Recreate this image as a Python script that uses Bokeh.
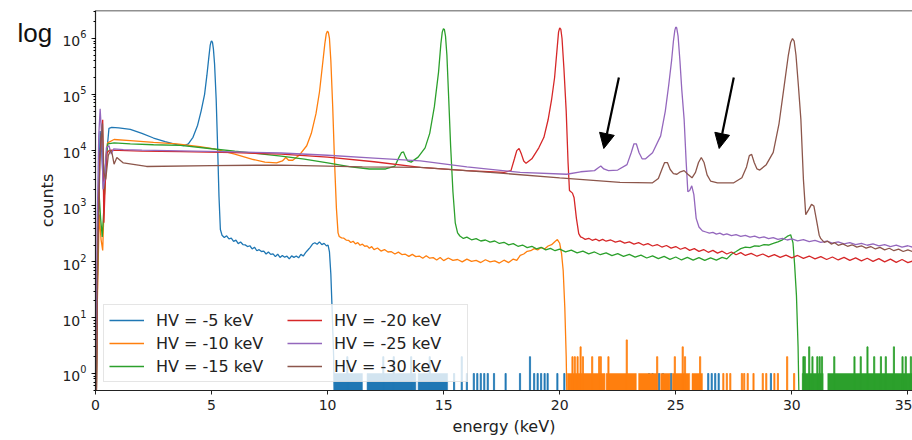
import numpy as np
from bokeh.plotting import figure
from bokeh.models import (Range1d, Legend, LegendItem, Label, Arrow, NormalHead,
                          FixedTicker, LogTicker, Span)
from bokeh.embed import file_html
from bokeh.resources import INLINE

# ---------------- data ----------------
series_labels = ["HV = -5 keV", "HV = -10 keV", "HV = -15 keV",
                 "HV = -20 keV", "HV = -25 keV", "HV = -30 keV"]
series_colors = ["#1f77b4", "#ff7f0e", "#2ca02c", "#d62728", "#9467bd", "#8c564b"]
x_ticks = [0, 5, 10, 15, 20, 25, 30, 35]

# spectra: (energy keV, counts); counts < 0.5 means "zero" (off the log axis)
hv5_spectrum = [
    (0.03, 0.2), (0.08, 40), (0.14, 2500), (0.2, 2.2e4), (0.27, 9e3), (0.35, 1.8e3),
    (0.45, 7e3), (0.54, 1.6e4), (0.58, 2.45e4), (0.7, 2.55e4), (1.0, 2.5e4), (1.5, 2.35e4),
    (2.0, 2.0e4), (2.5, 1.65e4), (3.0, 1.42e4), (3.5, 1.26e4), (3.8, 1.2e4), (4.0, 1.3e4),
    (4.2, 1.7e4), (4.4, 2.8e4), (4.55, 5e4), (4.7, 1.0e5), (4.8, 2.2e5), (4.88, 4.5e5),
    (4.94, 7.5e5), (4.98, 8.8e5), (5.01, 9e5), (5.04, 8.5e5), (5.08, 6.5e5), (5.13, 3.5e5),
    (5.2, 8e4), (5.26, 1.2e4), (5.32, 1.5e3), (5.38, 380),
    (5.45, 300), (5.55, 272), (5.65, 292), (5.75, 258), (5.85, 266), (5.95, 232), (6.05, 245),
    (6.15, 212), (6.25, 226), (6.35, 204), (6.45, 201), (6.55, 188), (6.65, 194), (6.75, 170),
    (6.85, 183), (6.95, 158), (7.05, 165), (7.15, 153), (7.25, 155), (7.35, 138), (7.45, 150),
    (7.55, 136), (7.65, 139), (7.75, 124), (7.85, 137), (7.95, 120), (8.05, 130), (8.15, 121),
    (8.25, 126), (8.35, 113), (8.45, 128), (8.55, 120), (8.65, 127), (8.75, 118), (8.85, 136),
    (8.95, 127), (9.05, 146), (9.15, 163), (9.25, 182), (9.35, 208), (9.45, 220), (9.55, 206),
    (9.65, 228), (9.75, 203), (9.85, 214), (9.95, 193), (10.02, 200), (10.08, 150),
    (10.14, 60), (10.2, 12), (10.26, 2), (10.3, 0.2),
]
hv10_spectrum = [
    (0.03, 0.2), (0.08, 20), (0.16, 700), (0.24, 250), (0.31, 160), (0.38, 1500), (0.45, 8e3),
    (0.52, 1.35e4), (0.8, 1.55e4), (1.5, 1.48e4), (2.5, 1.38e4), (3.5, 1.3e4), (4.5, 1.15e4),
    (5.1, 1.05e4), (6.0, 8.5e3), (6.8, 6.8e3), (7.3, 6.1e3), (7.8, 5.9e3), (8.05, 6.4e3),
    (8.2, 7.4e3), (8.32, 6.6e3), (8.5, 6.6e3), (8.8, 8.3e3), (9.1, 1.2e4), (9.3, 2.0e4),
    (9.5, 4.5e4), (9.65, 1.1e5), (9.8, 4e5), (9.88, 8e5), (9.94, 1.2e6), (9.99, 1.35e6),
    (10.03, 1.3e6), (10.08, 1.0e6), (10.14, 4e5), (10.22, 6e4), (10.3, 6e3), (10.38, 900),
    (10.45, 330),
    (10.5, 285), (10.6, 268), (10.7, 265), (10.8, 245), (10.9, 243), (11.0, 222), (11.1, 234),
    (11.2, 210), (11.3, 221), (11.4, 198), (11.5, 207), (11.6, 190), (11.7, 193), (11.8, 175),
    (11.9, 187), (12.0, 166), (12.15, 177), (12.3, 156), (12.45, 166), (12.6, 150),
    (12.75, 152), (12.9, 138), (13.05, 149), (13.2, 135), (13.35, 137), (13.5, 125),
    (13.65, 136), (13.8, 124), (13.95, 127), (14.1, 116), (14.25, 128), (14.4, 116),
    (14.55, 119), (14.7, 108), (14.85, 120), (15.0, 105), (15.2, 117), (15.4, 106),
    (15.6, 110), (15.8, 100), (16.0, 112), (16.2, 102), (16.4, 106), (16.6, 97), (16.8, 109),
    (17.0, 100), (17.2, 104), (17.4, 95), (17.6, 107), (17.8, 97), (18.0, 112), (18.15, 106),
    (18.3, 130), (18.45, 138), (18.6, 154), (18.75, 158), (18.9, 172), (19.05, 163),
    (19.2, 180), (19.35, 170), (19.5, 192), (19.65, 203), (19.8, 232), (19.9, 250),
    (20.0, 215), (20.08, 140), (20.15, 70), (20.22, 15), (20.28, 2), (20.32, 0.2),
]
hv15_spectrum = [
    (0.03, 0.2), (0.07, 30), (0.15, 1800), (0.22, 600), (0.29, 280), (0.36, 900), (0.44, 6e3),
    (0.53, 1.3e4), (0.8, 1.35e4), (1.5, 1.3e4), (2.5, 1.25e4), (3.66, 1.22e4), (5.0, 1.06e4),
    (6.0, 9.6e3), (7.0, 8.7e3), (8.0, 7.8e3), (9.0, 6.9e3), (10.0, 5.9e3), (11.0, 5.0e3),
    (11.8, 4.6e3), (12.5, 4.6e3), (12.9, 5.2e3), (13.08, 7.5e3), (13.18, 9.0e3),
    (13.27, 9.3e3), (13.36, 7.5e3), (13.45, 6.4e3), (13.6, 6.1e3), (13.9, 7.5e3),
    (14.2, 1.1e4), (14.4, 2.0e4), (14.6, 6e4), (14.78, 2.5e5), (14.88, 8e5), (14.94, 1.3e6),
    (14.99, 1.5e6), (15.03, 1.45e6), (15.08, 1.1e6), (15.14, 5e5), (15.22, 8e4), (15.3, 1.2e4),
    (15.4, 1.8e3), (15.5, 500), (15.6, 330),
    (15.7, 290), (15.85, 262), (16.0, 277), (16.2, 248), (16.4, 260), (16.6, 236), (16.8, 246),
    (17.0, 226), (17.2, 236), (17.4, 213), (17.6, 224), (17.8, 201), (18.0, 212), (18.2, 190),
    (18.4, 200), (18.6, 180), (18.8, 190), (19.0, 171), (19.2, 182), (19.4, 164), (19.6, 174),
    (19.8, 158), (20.0, 169), (20.25, 151), (20.5, 162), (20.75, 145), (21.0, 155),
    (21.25, 139), (21.5, 150), (21.75, 134), (22.0, 145), (22.25, 129), (22.5, 140),
    (22.75, 125), (23.0, 136), (23.25, 121), (23.5, 132), (23.75, 117), (24.0, 128),
    (24.25, 114), (24.5, 125), (24.75, 111), (25.0, 122), (25.25, 108), (25.5, 120),
    (25.75, 107), (26.0, 119), (26.25, 106), (26.5, 118), (26.75, 107), (27.0, 120),
    (27.2, 113), (27.4, 137), (27.6, 153), (27.8, 172), (28.0, 183), (28.2, 180), (28.4, 193),
    (28.6, 190), (28.8, 203), (29.0, 200), (29.2, 213), (29.4, 227), (29.6, 248), (29.8, 285),
    (29.95, 305), (30.05, 220), (30.12, 90), (30.2, 25), (30.27, 3), (30.32, 0.2),
]
hv20_spectrum = [
    (0.03, 0.2), (0.09, 150), (0.18, 6e3), (0.27, 2.5e4), (0.31, 3.5e4), (0.36, 500),
    (0.42, 2.5e3), (0.5, 9e3), (0.6, 1.0e4), (1.0, 9.9e3), (2.0, 9.6e3), (3.66, 9.4e3),
    (6.0, 9.0e3), (8.0, 8.5e3), (10.0, 7.5e3), (12.0, 6.2e3), (14.0, 4.9e3), (16.0, 4.3e3),
    (17.6, 4.0e3), (17.9, 4.3e3), (18.05, 7e3), (18.15, 9.8e3), (18.25, 1.07e4),
    (18.35, 8.5e3), (18.45, 6.4e3), (18.55, 5.8e3), (18.8, 7e3), (19.1, 1.1e4), (19.32, 1.7e4),
    (19.5, 3.5e4), (19.65, 8e4), (19.78, 2e5), (19.88, 6e5), (19.95, 1.3e6), (20.0, 1.55e6),
    (20.05, 1.45e6), (20.1, 1.0e6), (20.18, 3e5), (20.28, 5e4), (20.36, 6e3),
    (20.42, 1.9e3), (20.55, 1.7e3), (20.62, 1.4e3), (20.72, 600), (20.82, 320), (20.9, 280),
    (20.95, 275), (21.1, 253), (21.25, 264), (21.4, 243), (21.55, 256), (21.7, 238),
    (21.85, 252), (22.0, 234), (22.2, 246), (22.4, 226), (22.6, 238), (22.8, 216), (23.0, 228),
    (23.2, 208), (23.4, 220), (23.6, 200), (23.8, 212), (24.0, 192), (24.2, 204), (24.4, 184),
    (24.6, 196), (24.8, 176), (25.0, 188), (25.2, 168), (25.4, 180), (25.6, 160), (25.8, 172),
    (26.0, 154), (26.2, 166), (26.4, 148), (26.6, 160), (26.8, 143), (27.0, 155), (27.2, 138),
    (27.4, 150), (27.6, 134), (27.8, 146), (28.0, 130), (28.25, 142), (28.5, 126),
    (28.75, 138), (29.0, 123), (29.25, 135), (29.5, 120), (29.75, 132), (30.0, 118),
    (30.25, 130), (30.5, 115), (30.75, 127), (31.0, 113), (31.25, 124), (31.5, 110),
    (31.75, 122), (32.0, 108), (32.25, 120), (32.5, 106), (32.75, 118), (33.0, 104),
    (33.25, 116), (33.5, 102), (33.75, 114), (34.0, 100), (34.25, 112), (34.5, 98),
    (34.75, 110), (35.0, 97), (35.25, 105),
]
hv25_spectrum = [
    (0.02, 0.2), (0.07, 400), (0.14, 1.8e4), (0.2, 5.5e4), (0.26, 2e4), (0.33, 2e3),
    (0.4, 3e3), (0.47, 1.1e4), (0.58, 1.2e4), (0.68, 8.5e3), (0.78, 1.05e4), (1.2, 1.02e4),
    (2.0, 1.0e4), (3.66, 9.7e3), (6.0, 9.3e3), (8.0, 8.9e3), (10.0, 8.1e3), (12.0, 7.2e3),
    (14.0, 6.4e3), (16.0, 5.0e3), (18.3, 4.0e3), (20.3, 3.7e3), (20.9, 4.1e3), (21.5, 4.3e3),
    (21.65, 4.8e3), (21.77, 5.2e3), (21.9, 4.6e3), (22.1, 4.3e3), (22.5, 4.4e3), (22.9, 5.5e3),
    (23.08, 9e3), (23.2, 1.3e4), (23.3, 1.3e4), (23.42, 9e3), (23.55, 7e3), (23.7, 7e3),
    (24.0, 9e3), (24.35, 1.8e4), (24.55, 5e4), (24.7, 1.5e5), (24.82, 4e5), (24.9, 9e5),
    (24.96, 1.4e6), (25.0, 1.6e6), (25.04, 1.55e6), (25.1, 1.1e6), (25.18, 4e5),
    (25.26, 1.2e5), (25.36, 3.6e4), (25.45, 6e3), (25.52, 1.8e3), (25.6, 1.9e3),
    (25.69, 2.3e3), (25.78, 1.6e3), (25.88, 600),
    (26.0, 420), (26.15, 358), (26.3, 342), (26.45, 326), (26.6, 337), (26.75, 313),
    (26.9, 327), (27.05, 303), (27.2, 317), (27.4, 294), (27.6, 307), (27.8, 286), (28.0, 298),
    (28.2, 276), (28.4, 289), (28.6, 268), (28.8, 280), (29.0, 260), (29.2, 272), (29.4, 253),
    (29.6, 264), (29.8, 246), (30.0, 258), (30.25, 238), (30.5, 250), (30.75, 230),
    (31.0, 242), (31.25, 223), (31.5, 234), (31.75, 216), (32.0, 228), (32.25, 210),
    (32.5, 221), (32.75, 204), (33.0, 215), (33.25, 198), (33.5, 209), (33.75, 193),
    (34.0, 204), (34.25, 188), (34.5, 199), (34.75, 183), (35.0, 194), (35.25, 180),
]
hv30_spectrum = [
    (0.03, 0.2), (0.1, 200), (0.2, 8e3), (0.3, 3.0e4), (0.36, 4e3), (0.44, 3e3), (0.55, 8e3),
    (0.65, 1.0e4), (0.72, 8.5e3), (0.8, 5.6e3), (0.92, 7.4e3), (1.2, 5.9e3), (2.2, 5.1e3),
    (5.0, 5.3e3), (8.0, 5.4e3), (11.5, 5.0e3), (14.0, 4.9e3), (17.0, 4.0e3), (20.0, 3.2e3),
    (22.6, 2.65e3), (24.0, 2.6e3), (24.25, 3.1e3), (24.4, 4.5e3), (24.52, 6.0e3),
    (24.64, 6.0e3), (24.76, 4.5e3), (24.9, 3.8e3), (25.05, 3.7e3), (25.2, 4.1e3),
    (25.36, 4.3e3), (25.52, 3.7e3), (25.7, 3.2e3), (25.85, 4.0e3), (25.98, 6.0e3),
    (26.1, 7.4e3), (26.22, 6.0e3), (26.35, 3.6e3), (26.5, 2.8e3), (26.8, 2.6e3), (27.5, 2.6e3),
    (27.85, 3.2e3), (28.05, 5.0e3), (28.17, 8.0e3), (28.27, 8.4e3), (28.38, 6.0e3),
    (28.5, 4.6e3), (28.62, 4.4e3), (28.9, 5.5e3), (29.2, 9.1e3), (29.45, 3e4), (29.67, 1.4e5),
    (29.85, 5e5), (29.95, 8.5e5), (30.03, 1.0e6), (30.1, 9e5), (30.18, 5e5), (30.28, 1.5e5),
    (30.39, 3.6e4), (30.5, 3e3), (30.6, 700), (30.72, 850), (30.85, 1.07e3), (30.95, 1.0e3),
    (31.05, 600), (31.18, 300),
    (31.25, 260), (31.4, 223), (31.55, 234), (31.7, 208), (31.85, 220), (32.0, 198),
    (32.2, 210), (32.4, 190), (32.6, 202), (32.8, 183), (33.0, 194), (33.2, 176), (33.4, 188),
    (33.6, 170), (33.8, 181), (34.0, 164), (34.2, 175), (34.4, 158), (34.6, 169), (34.8, 153),
    (35.0, 164), (35.25, 150),
]

# sparse low-count bins after each spectrum's cut-off: (energy, counts)
hv5_low_bins = [
    (10.85, 2), (12.4, 2), (12.85, 2), (13.6, 2), (14.4, 2), (15.45, 1), (15.78, 2), (16.0, 1),
    (16.3, 1), (16.45, 1), (16.6, 1), (16.75, 1), (16.9, 1), (17.17, 1), (17.67, 1),
    (18.29, 1), (18.72, 2), (18.9, 1), (19.05, 1), (19.2, 1), (19.35, 1), (19.48, 1),
    (19.9, 1), (20.2, 1), (23.85, 1), (24.0, 1), (24.28, 1), (24.45, 1), (24.8, 1),
    (26.4, 1), (26.55, 1), (26.7, 1), (26.85, 1), (29.1, 1),
]
hv10_low_bins = [
    (20.55, 2), (20.65, 2), (20.77, 2), (20.9, 3), (21.0, 2), (21.4, 2), (21.7, 2), (21.77, 2),
    (22.1, 2), (22.89, 4), (24.2, 2), (24.96, 2), (25.3, 3), (25.4, 2), (26.05, 2),
    (27.05, 1), (27.2, 1), (27.35, 1), (27.85, 1), (27.95, 1), (28.1, 1), (28.35, 1),
    (28.75, 1), (28.9, 1), (29.25, 1), (29.4, 1), (29.8, 2), (30.1, 1),
]
hv15_low_bins = [
    (30.5, 2), (30.56, 2), (30.75, 3), (30.89, 2), (31.1, 2), (31.2, 2), (31.3, 2), (31.83, 2),
    (32.7, 2), (32.97, 2), (33.26, 3), (33.55, 2), (33.84, 2), (34.05, 2), (34.4, 3),
    (34.77, 2), (34.91, 2), (35.13, 2),
]
# energy ranges where nearly every bin holds 1 count: (from, to)
hv5_dense = [(10.28, 11.5), (11.7, 13.8), (13.9, 15.17)]
hv10_dense = [(20.33, 21.95), (22.0, 23.3), (23.4, 24.2), (24.35, 24.75), (24.85, 25.6), (25.7, 26.15)]
hv15_dense = [(30.45, 31.35), (31.55, 35.25)]

# annotation arrows: (energy start, counts start, energy end, counts end)
arrows = [(22.55, 2.0e5, 21.9, 1.07e4), (27.5, 2.0e5, 26.87, 1.07e4)]

spectra = [hv5_spectrum, hv10_spectrum, hv15_spectrum, hv20_spectrum, hv25_spectrum, hv30_spectrum]
low_bins = [hv5_low_bins, hv10_low_bins, hv15_low_bins, [], [], []]
dense = [hv5_dense, hv10_dense, hv15_dense, [], [], []]

# ---------------- figure ----------------
FONT = "DejaVu Sans"
Y_TOP = 3.17e6
p = figure(width=912, height=440, output_backend="svg", toolbar_location=None,
           y_axis_type="log",
           x_range=Range1d(0, 35.2), y_range=Range1d(0.496, Y_TOP),
           min_border_left=95, min_border_right=0, min_border_top=10, min_border_bottom=50)
p.background_fill_color = "white"
p.border_fill_color = "white"
p.grid.visible = False
p.outline_line_color = None

floor = 1e-3
line_renderers = []
for i in range(6):
    col = series_colors[i]
    if dense[i]:
        d = dense[i]
        p.quad(left=[a for a, b in d], right=[b for a, b in d], bottom=floor, top=1,
               fill_color=col, line_color=col, line_width=0.5)
    if low_bins[i]:
        lb = low_bins[i]
        p.vbar(x=[e for e, n in lb], top=[n for e, n in lb], bottom=floor, width=0.05,
               fill_color=col, line_color=col, line_width=0.8)
    sp = spectra[i]
    r = p.line([e for e, n in sp], [n for e, n in sp], line_color=col, line_width=1.3)
    line_renderers.append(r)

for (x0, y0, x1, y1) in arrows:
    p.add_layout(Arrow(x_start=x0, y_start=y0, x_end=x1, y_end=y1, line_color="black",
                       line_width=2.2,
                       end=NormalHead(size=15, fill_color="black", line_color="black")))

# top spine (right spine lies outside the window in the reference)
p.add_layout(Span(location=Y_TOP, dimension="width", line_color="#222222", line_width=1.5))

# axes
p.xaxis.ticker = FixedTicker(ticks=x_ticks)
p.xaxis.axis_label = "energy (keV)"
p.yaxis.axis_label = "counts"
p.yaxis.ticker = LogTicker(num_minor_ticks=10)
for ax in (p.xaxis[0], p.yaxis[0]):
    ax.axis_label_text_font = FONT
    ax.axis_label_text_font_style = "normal"
    ax.axis_label_text_font_size = "16px"
    ax.axis_label_text_color = "#222222"
    ax.major_label_text_font = FONT
    ax.major_label_text_font_size = "14px"
    ax.major_label_text_color = "#222222"
    ax.axis_line_color = "#222222"
    ax.axis_line_width = 1.2
    ax.major_tick_line_color = "#222222"
    ax.major_tick_in = 0
    ax.major_tick_out = 4
    ax.minor_tick_in = 0
    ax.minor_tick_out = 2
p.xaxis.minor_tick_line_color = None
p.xaxis.axis_label_standoff = 4
p.yaxis.axis_label_standoff = 2

legend = Legend(items=[LegendItem(label=series_labels[i], renderers=[line_renderers[i]])
                       for i in range(6)],
                location=(8, 8), ncols=2, orientation="vertical")
legend.label_text_font = FONT
legend.label_text_font_size = "16px"
legend.label_text_color = "#222222"
legend.glyph_width = 35
legend.glyph_height = 20
legend.label_height = 20
legend.label_width = 128
legend.label_standoff = 12
legend.spacing = 3
legend.padding = 5
legend.margin = 0
legend.border_line_color = "#cccccc"
legend.background_fill_alpha = 0.8
p.add_layout(legend)

# "log" marker to the left of the top tick label (side panel, so it is not clipped)
p.add_layout(Label(x=17, y=358, x_units="screen", y_units="screen", text="log",
                   text_font="Liberation Sans", text_font_size="26px",
                   text_baseline="alphabetic", text_color="#111111"), "left")

open("out.html", "w").write(file_html(p, INLINE))
